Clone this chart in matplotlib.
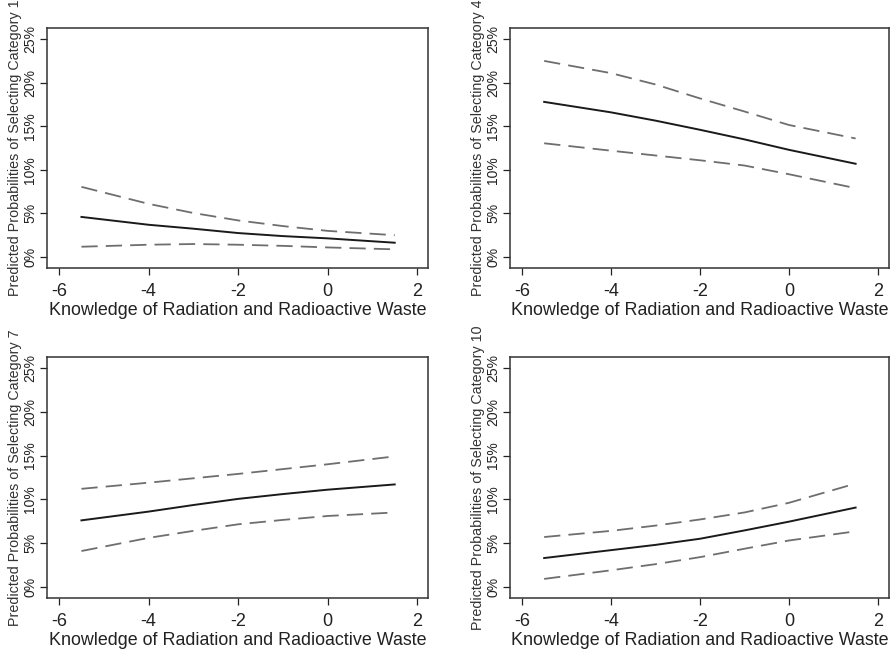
import matplotlib
matplotlib.use("Agg")
import matplotlib.pyplot as plt
from matplotlib.ticker import FuncFormatter

plt.rcParams["font.family"] = ["Liberation Sans", "DejaVu Sans"]
plt.rcParams["axes.unicode_minus"] = False

knowledge = [-5.5, -4, -3, -2, -1, 0, 1.5]
categories = ["1", "4", "7", "10"]

# predicted probability (%), upper and lower bounds, per category
pred = {
    "1": [4.6, 3.7, 3.25, 2.75, 2.4, 2.14, 1.64],
    "4": [17.8, 16.6, 15.65, 14.6, 13.5, 12.3, 10.7],
    "7": [7.6, 8.6, 9.35, 10.05, 10.6, 11.1, 11.7],
    "10": [3.3, 4.2, 4.8, 5.5, 6.45, 7.45, 9.06],
}
upper = {
    "1": [8.05, 6.1, 5.05, 4.2, 3.55, 3.0, 2.5],
    "4": [22.5, 21.1, 19.8, 18.2, 16.7, 15.15, 13.6],
    "7": [11.2, 11.9, 12.4, 12.9, 13.45, 14.0, 14.9],
    "10": [5.7, 6.4, 7.0, 7.7, 8.5, 9.6, 11.8],
}
lower = {
    "1": [1.18, 1.41, 1.49, 1.41, 1.28, 1.1, 0.88],
    "4": [13.05, 12.2, 11.65, 11.1, 10.5, 9.5, 7.9],
    "7": [4.1, 5.6, 6.4, 7.15, 7.65, 8.1, 8.5],
    "10": [0.92, 1.9, 2.6, 3.4, 4.36, 5.3, 6.35],
}

fig = plt.figure(figsize=(8.93, 6.5), dpi=100)
positions = [
    [0.0526, 0.5877, 0.427, 0.369],
    [0.571, 0.5877, 0.4245, 0.369],
    [0.0526, 0.080, 0.427, 0.371],
    [0.571, 0.080, 0.4245, 0.371],
]

for cat, pos in zip(categories, positions):
    ax = fig.add_axes(pos)
    ax.plot(knowledge, upper[cat], color="#6e6e6e", lw=1.3, dashes=(9, 4.5))
    ax.plot(knowledge, lower[cat], color="#6e6e6e", lw=1.3, dashes=(9, 4.5))
    ax.plot(knowledge, pred[cat], color="#1a1a1a", lw=1.4)
    ax.set_xlim(-6.27, 2.25)
    ax.set_ylim(-1.26, 26.26)
    ax.set_xticks([-6, -4, -2, 0, 2])
    ax.set_yticks([0, 5, 10, 15, 20, 25])
    ax.yaxis.set_major_formatter(FuncFormatter(lambda v, p: f"{v:.0f}%"))
    ax.tick_params(axis="x", labelsize=13, length=5, width=0.9, pad=6, colors="#222222")
    ax.tick_params(axis="y", labelsize=10, length=5, width=0.9, pad=2, colors="#222222")
    for lab in ax.get_yticklabels():
        lab.set_rotation(90)
        lab.set_va("center")
    for s in ax.spines.values():
        s.set_linewidth(1.1)
        s.set_color("#333333")
    ax.set_xlabel("Knowledge of Radiation and Radioactive Waste", fontsize=12.9,
                  labelpad=1, color="#222222")
    ax.set_ylabel(f"Predicted Probabilities of Selecting Category {cat}",
                  fontsize=10.3, labelpad=1, color="#333333")

fig.savefig("out.png", dpi=100, facecolor="white")
